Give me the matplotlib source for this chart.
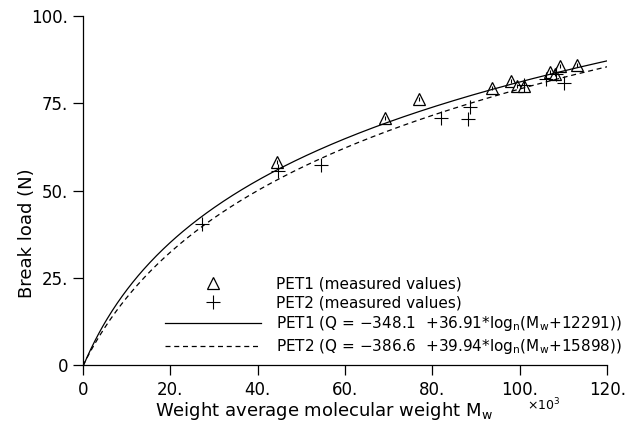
import numpy as np
import matplotlib
matplotlib.use('Agg')
import matplotlib.pyplot as plt

# measured break loads, molecular weight in units of 10^3
pet1_mw = [44.5, 69.1, 77.0, 93.7, 97.9, 99.3, 101.0, 106.9, 108.0, 109.1, 113.0]
pet1_load = [58.3, 70.7, 76.1, 79.3, 81.5, 79.9, 80.0, 84.0, 83.3, 85.8, 86.0]
pet2_mw = [27.2, 44.6, 54.4, 81.9, 88.1, 88.6, 101.0, 106.0, 108.2, 110.0]
pet2_load = [40.3, 55.7, 57.3, 70.7, 70.5, 73.8, 80.2, 82.0, 83.3, 80.9]

# fit coefficients: Q = a + b*ln(Mw + c)
pet1_fit = (-348.1, 36.91, 12291)
pet2_fit = (-386.6, 39.94, 15898)

plt.rcParams['font.family'] = 'DejaVu Sans'
plt.rcParams['mathtext.fontset'] = 'dejavusans'

fig = plt.figure(figsize=(6.28, 4.34), dpi=100)
ax = fig.add_axes([0.132, 0.159, 0.835, 0.804])

mw = np.linspace(0, 120, 400)
q1 = pet1_fit[0] + pet1_fit[1] * np.log(mw * 1000 + pet1_fit[2])
q2 = pet2_fit[0] + pet2_fit[1] * np.log(mw * 1000 + pet2_fit[2])

ax.plot(pet1_mw, pet1_load, linestyle='none', marker='^', markersize=8,
        markerfacecolor='white', markeredgecolor='black', markeredgewidth=0.9,
        label='PET1 (measured values)')
ax.plot(pet1_mw, pet1_load, linestyle='none', marker='|', markersize=3.5,
        color='black', markeredgewidth=0.8)
ax.plot(pet2_mw, pet2_load, linestyle='none', marker='+', markersize=10,
        color='black', markeredgewidth=0.8, label='PET2 (measured values)')
ax.plot(mw, q1, color='black', linewidth=0.9,
        label=r'PET1 (Q = $-$348.1  +36.91*log$_\mathregular{n}$(M$_\mathregular{w}$+12291))')
ax.plot(mw, q2, color='black', linewidth=0.9, linestyle=(0, (4, 3)),
        label=r'PET2 (Q = $-$386.6  +39.94*log$_\mathregular{n}$(M$_\mathregular{w}$+15898))')

ax.set_xlim(0, 120)
ax.set_ylim(0, 100)
ax.set_xticks([0, 20, 40, 60, 80, 100, 120])
ax.set_xticklabels(['0', '20.', '40.', '60.', '80.', '100.', '120.'])
ax.set_yticks([0, 25, 50, 75, 100])
ax.set_yticklabels(['0', '25.', '50.', '75.', '100.'])
ax.tick_params(direction='out', length=7.2, width=0.9, labelsize=12)
ax.tick_params(axis='x', pad=4.3)
ax.tick_params(axis='y', pad=3.6)
for side in ['top', 'right']:
    ax.spines[side].set_visible(False)
for side in ['left', 'bottom']:
    ax.spines[side].set_linewidth(0.9)

ax.set_xlabel(r'Weight average molecular weight M$_\mathregular{w}$', fontsize=13)
ax.xaxis.set_label_coords(0.46, -0.1)
ax.set_ylabel('Break load (N)', fontsize=13)
ax.yaxis.set_label_coords(-0.09, 0.378)
ax.text(0.878, -0.115, r'$\times$10$^\mathregular{3}$', transform=ax.transAxes,
        ha='center', va='center', fontsize=9)

ax.legend(loc='lower left', frameon=False, fontsize=11, handlelength=6.3,
          handletextpad=1.0, labelspacing=0.25, borderaxespad=0, borderpad=0,
          bbox_to_anchor=(0.156, 0.025))

fig.savefig('out.png', dpi=100)
